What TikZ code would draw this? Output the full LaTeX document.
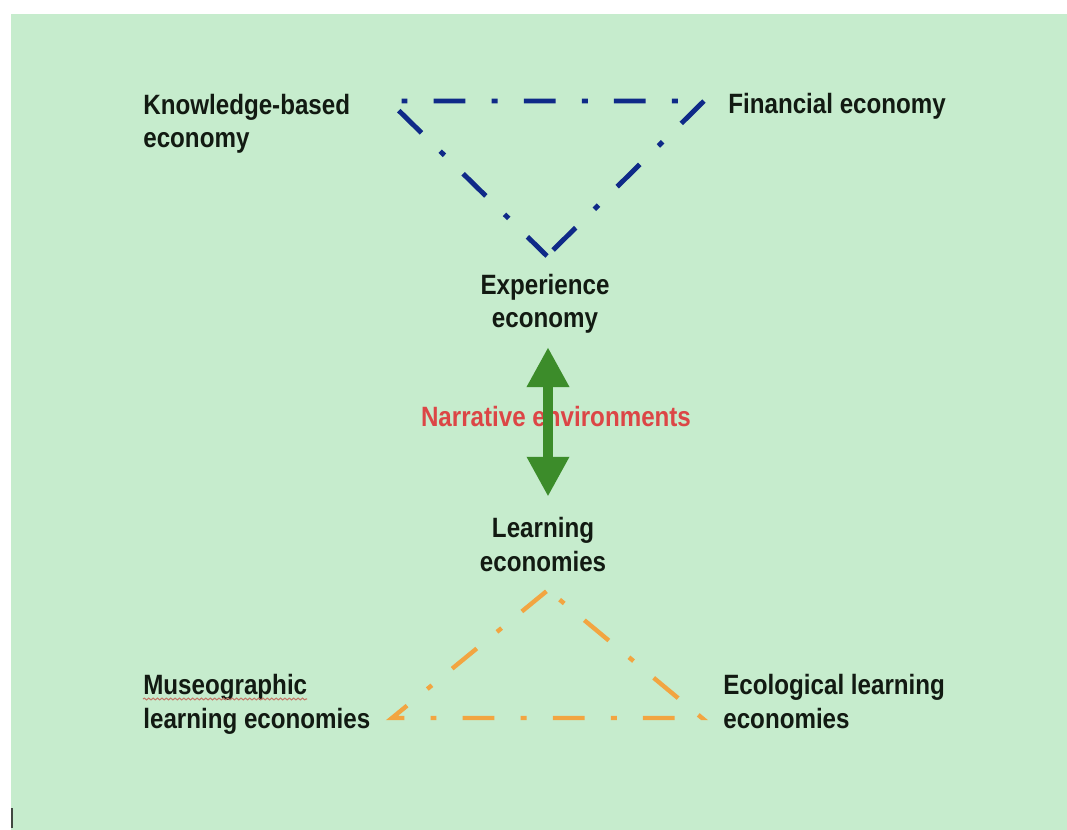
\documentclass[tikz,border=0pt]{standalone}
\usepackage{fontspec}
\usepackage{xcolor}
\usepackage{tikz}
\usetikzlibrary{arrows.meta,calc,decorations.pathmorphing}
\newfontfamily\econfont{Liberation Sans}[FakeStretch=0.865]
\definecolor{mint}{HTML}{C6ECCD}
\definecolor{inkb}{HTML}{121A12}
\definecolor{navyline}{HTML}{0F2A88}
\definecolor{ochre}{HTML}{F2A541}
\definecolor{leaf}{HTML}{3C8C2A}
\definecolor{rust}{HTML}{DC4646}
\definecolor{squiggle}{HTML}{C47869}
\tikzset{
  lbl/.style={font=\econfont\bfseries\fontsize{15.9}{19.3}\selectfont, text=inkb,
              inner sep=0pt, align=#1},
  lbl/.default=left,
  tri/.style={draw=#1, line join=miter,
              dash pattern=on 18.1pt off 14.9pt on 3.4pt off 14.9pt},
  twoway/.style={{Triangle[length=22.7pt,width=22.7pt]}-{Triangle[length=22.7pt,width=22.7pt]},
                 line width=6.2pt, draw=leaf}
}

\begin{document}
\begin{tikzpicture}[x=0.02cm, y=-0.02cm]
  \useasboundingbox (0,0) rectangle (1067,830);
  \fill[white] (0,0) rectangle (1067,830);
  \fill[mint] (11,14) rectangle (1067,830);

  % economy labels (base = baseline of the last line)
  \node[lbl, anchor=base west] (know) at (143,148) {Knowledge-based\\economy};
  \node[lbl, anchor=base west] (fin) at (728,114) {Financial economy};
  \node[lbl=center, anchor=base] (exp) at (545,328) {Experience\\economy};
  \node[lbl=center, anchor=base, text=rust] (narr) at (556,427) {Narrative environments};
  \node[lbl=center, anchor=base] (learn) at (543,571) {Learning\\economies};
  \node[lbl, anchor=base west] (museo) at (143,728) {Museographic\\learning economies};
  \node[lbl, anchor=base west] (eco) at (723,728) {Ecological learning\\economies};

  % upper triangle
  \coordinate (kv) at (389,101);
  \coordinate (fv) at (704,101);
  \coordinate (ev) at (547,256);
  \draw[tri=navyline, line width=2.8pt, dash phase=2.5pt] (ev) -- (kv) -- (fv) -- cycle;

  % lower triangle
  \coordinate (lv) at (548,590);
  \coordinate (ov) at (702,718);
  \coordinate (mv) at (392,718);
  \draw[tri=ochre, line width=2.5pt, dash phase=24.4pt] (lv) -- (ov) -- (mv) -- cycle;

  % two-way arrow between experience and learning
  \coordinate (axis) at (548,0);
  \draw[twoway, shorten <=7.4pt, shorten >=11.3pt] (exp.south -| axis) -- (learn.north -| axis);

  \draw[squiggle, line width=0.6pt, decorate,
        decoration={snake, amplitude=0.5pt, segment length=2.5pt}] (143,699) -- (307,699);
  \draw[inkb!80, line width=1.2pt] (12,808) -- (12,828);
\end{tikzpicture}
\end{document}
